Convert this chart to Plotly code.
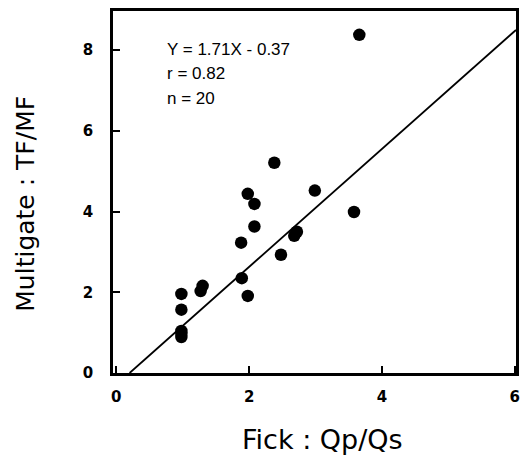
import plotly.graph_objects as go

# Data
fick_qpqs = [1.98, 2.08, 2.99, 3.58, 2.08, 1.88, 2.72, 2.68, 2.48, 1.89,
             1.98, 1.30, 1.27, 0.98, 0.98, 0.98, 0.98, 0.98, 3.66, 2.38]
multigate = [4.44, 4.19, 4.52, 3.99, 3.63, 3.23, 3.50, 3.40, 2.93, 2.35,
             1.91, 2.16, 2.03, 1.96, 1.57, 1.04, 0.97, 0.89, 8.38, 5.21]
line_x = [0.20, 6.02]
line_y = [0.0, 8.5]
x_ticks = [0, 2, 4, 6]
y_ticks = [0, 2, 4, 6, 8]
stats_text = ["Y = 1.71X - 0.37", "r = 0.82", "n = 20"]
x_title = "Fick : Qp/Qs"
y_title = "Multigate : TF/MF"

fig = go.Figure()
fig.add_trace(go.Scatter(x=line_x, y=line_y, mode="lines",
                         line=dict(color="black", width=1.8), showlegend=False))
fig.add_trace(go.Scatter(x=fick_qpqs, y=multigate, mode="markers",
                         marker=dict(color="black", size=12.5), showlegend=False))

for i, t in enumerate(stats_text):
    fig.add_annotation(x=0.128, y=0.895 - i * 0.068, xref="paper", yref="paper",
                       text=t, showarrow=False, xanchor="left", yanchor="middle",
                       font=dict(family="Liberation Sans", size=17, color="black"))

fig.add_annotation(x=0.519, y=-0.184, xref="paper", yref="paper", text=x_title,
                   showarrow=False, xanchor="center", yanchor="middle",
                   font=dict(family="DejaVu Sans", size=27, color="black"))
fig.add_annotation(x=-0.218, y=0.468, xref="paper", yref="paper", text=y_title,
                   showarrow=False, xanchor="center", yanchor="middle", textangle=-90,
                   font=dict(family="DejaVu Sans", size=25, color="black"))

tickfont = dict(family="DejaVu Sans", size=15, color="black", weight="bold")
axis_common = dict(showline=True, linecolor="black", linewidth=2.5, mirror=True,
                   ticks="inside", ticklen=7, tickwidth=1.5, tickcolor="black",
                   showgrid=False, zeroline=False, tickfont=tickfont)

fig.update_layout(
    width=512, height=450,
    margin=dict(l=105, r=4, t=0, b=85),
    paper_bgcolor="white", plot_bgcolor="white",
    xaxis=dict(range=[-0.05, 6.02], tickvals=x_ticks, ticklabelstandoff=8,
               **axis_common),
    yaxis=dict(range=[0, 8.97], tickvals=y_ticks, ticklabelstandoff=14,
               **axis_common),
)

fig.write_html("out.html")
